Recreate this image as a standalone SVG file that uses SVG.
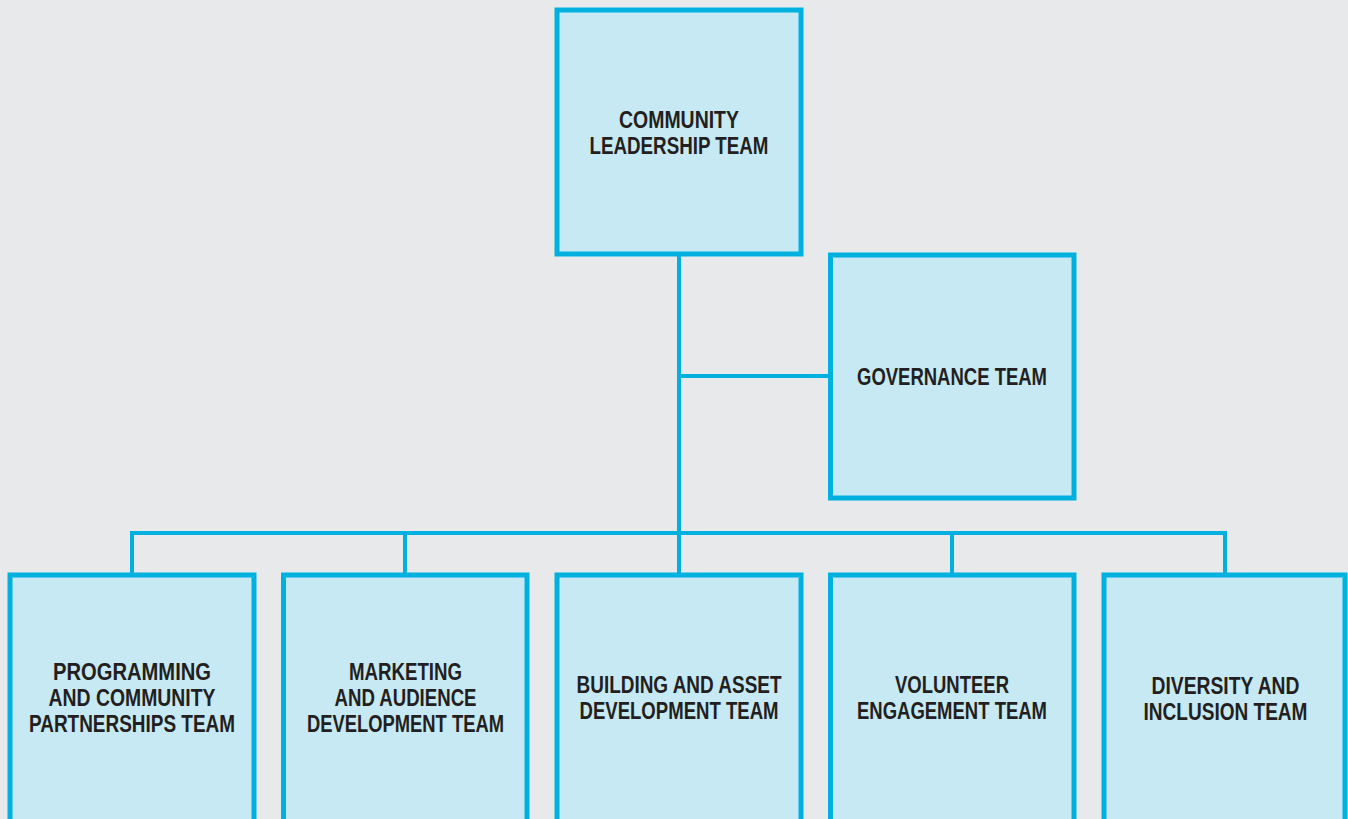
<svg xmlns="http://www.w3.org/2000/svg" width="1348" height="819" viewBox="0 0 1348 819">
<style>
.box{fill:#c7e9f4;stroke:#00b0df;stroke-width:5}
.conn{fill:none;stroke:#00b0df;stroke-width:4}
.t{font-family:"Liberation Sans",Arial,sans-serif;font-weight:bold;font-size:23px;fill:#231f20;text-anchor:middle}
</style>
<rect x="0" y="0" width="1348" height="819" fill="#e8e9eb"/>
<g id="connectors">
<line class="conn" x1="679" y1="254" x2="679" y2="575"/>
<line class="conn" x1="679" y1="376" x2="830" y2="376"/>
<polyline class="conn" points="132,575 132,533 1225,533 1225,575"/>
<line class="conn" x1="405" y1="533" x2="405" y2="575"/>
<line class="conn" x1="952" y1="533" x2="952" y2="575"/>
</g>
<g id="community">
<rect class="box" x="557" y="10" width="244" height="244"/>
<text class="t" x="679" y="128" textLength="120" lengthAdjust="spacingAndGlyphs">COMMUNITY</text>
<text class="t" x="679" y="154" textLength="179" lengthAdjust="spacingAndGlyphs">LEADERSHIP TEAM</text>
</g>
<g id="governance">
<rect class="box" x="830.5" y="255" width="243.5" height="243"/>
<text class="t" x="952" y="385" textLength="190" lengthAdjust="spacingAndGlyphs">GOVERNANCE TEAM</text>
</g>
<g id="programming">
<rect class="box" x="10" y="575" width="244" height="260"/>
<text class="t" x="132" y="680" textLength="158" lengthAdjust="spacingAndGlyphs">PROGRAMMING</text>
<text class="t" x="132" y="706" textLength="167" lengthAdjust="spacingAndGlyphs">AND COMMUNITY</text>
<text class="t" x="132" y="732" textLength="206" lengthAdjust="spacingAndGlyphs">PARTNERSHIPS TEAM</text>
</g>
<g id="marketing">
<rect class="box" x="283.5" y="575" width="243.5" height="260"/>
<text class="t" x="405.5" y="679.5" textLength="113" lengthAdjust="spacingAndGlyphs">MARKETING</text>
<text class="t" x="405.5" y="705.5" textLength="142" lengthAdjust="spacingAndGlyphs">AND AUDIENCE</text>
<text class="t" x="405.5" y="731.5" textLength="197" lengthAdjust="spacingAndGlyphs">DEVELOPMENT TEAM</text>
</g>
<g id="building">
<rect class="box" x="557" y="575" width="244" height="260"/>
<text class="t" x="679" y="692.5" textLength="205" lengthAdjust="spacingAndGlyphs">BUILDING AND ASSET</text>
<text class="t" x="679" y="718.5" textLength="199" lengthAdjust="spacingAndGlyphs">DEVELOPMENT TEAM</text>
</g>
<g id="volunteer">
<rect class="box" x="830.5" y="575" width="243.5" height="260"/>
<text class="t" x="952" y="692.5" textLength="114" lengthAdjust="spacingAndGlyphs">VOLUNTEER</text>
<text class="t" x="952" y="718.5" textLength="190" lengthAdjust="spacingAndGlyphs">ENGAGEMENT TEAM</text>
</g>
<g id="diversity">
<rect class="box" x="1104" y="575" width="241" height="260"/>
<text class="t" x="1225.5" y="693.5" textLength="148" lengthAdjust="spacingAndGlyphs">DIVERSITY AND</text>
<text class="t" x="1225.5" y="719.5" textLength="164" lengthAdjust="spacingAndGlyphs">INCLUSION TEAM</text>
</g>
</svg>
